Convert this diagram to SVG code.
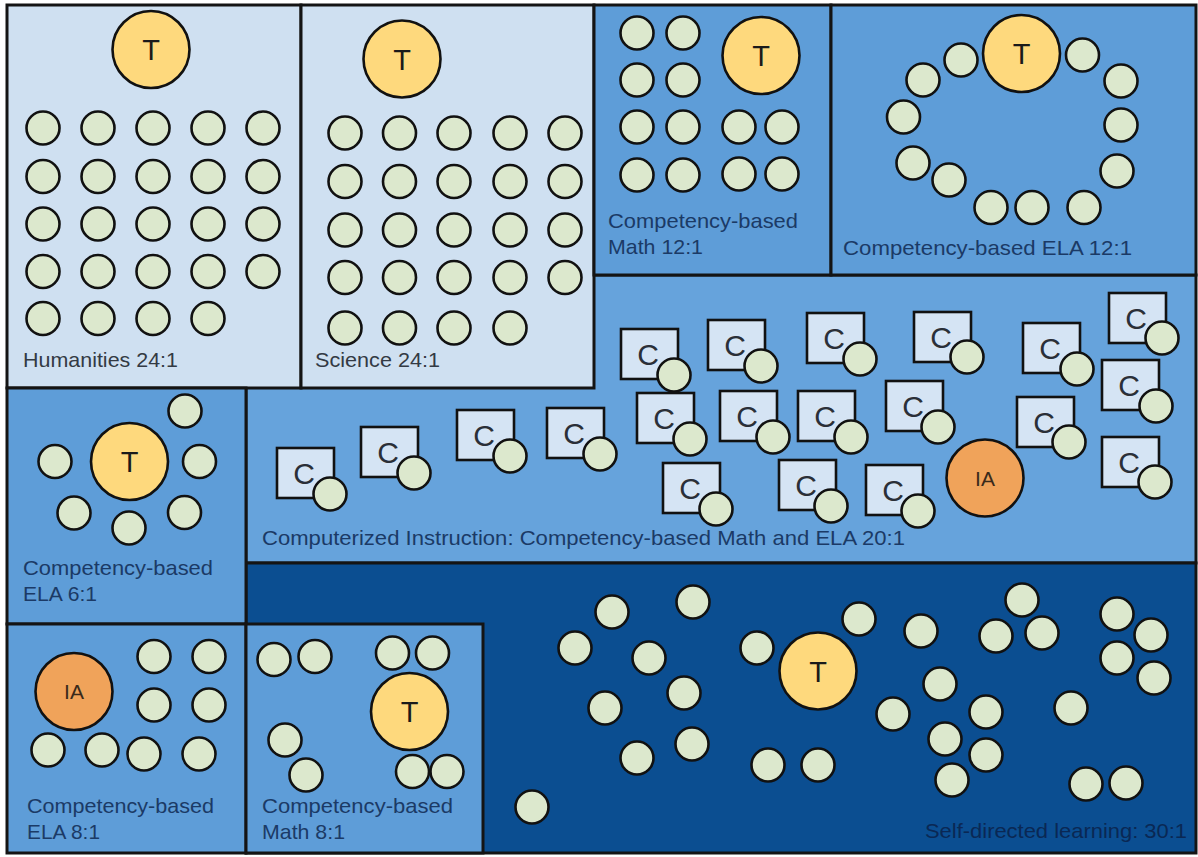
<svg xmlns="http://www.w3.org/2000/svg" width="1198" height="857" viewBox="0 0 1198 857">
<style>
.box{stroke:#141414;stroke-width:3}
.lt{fill:#cfe0f1}.md{fill:#5e9dd8}.ci{fill:#66a3dc}.dk{fill:#0b4e91}
.s{fill:#dce8cd;stroke:#111;stroke-width:2.6}
.t{fill:#fed97d;stroke:#111;stroke-width:2.6}
.ia{fill:#f0a35a;stroke:#111;stroke-width:2.6}
.cb{fill:#d5e4f4;stroke:#111;stroke-width:2.6}
.lbl{font-family:"Liberation Sans",Arial,sans-serif;font-size:21px}
.g1{fill:#333a44}.g2{fill:#1b3a66}.g3{fill:#0a2854}
.tt{font-family:"Liberation Sans",Arial,sans-serif;font-size:29px;fill:#1a1a1a;text-anchor:middle}
.it{font-family:"Liberation Sans",Arial,sans-serif;font-size:21px;fill:#3a2a1a;text-anchor:middle}
.ct{font-family:"Liberation Sans",Arial,sans-serif;font-size:30px;fill:#2a2f38;text-anchor:middle}
</style>
<rect width="1198" height="857" fill="#ffffff"/>

<g id="computerized">
<rect class="box ci" x="246" y="275" width="950" height="288"/>
<g id="c1"><rect class="cb" x="277" y="448" width="57" height="50"/><text class="ct" x="304" y="484">C</text><circle class="s" cx="330" cy="494" r="16.5"/></g>
<g id="c2"><rect class="cb" x="361" y="427" width="57" height="50"/><text class="ct" x="388" y="463">C</text><circle class="s" cx="414" cy="473" r="16.5"/></g>
<g id="c3"><rect class="cb" x="457" y="410" width="57" height="50"/><text class="ct" x="484" y="446">C</text><circle class="s" cx="510" cy="456" r="16.5"/></g>
<g id="c4"><rect class="cb" x="547" y="408" width="57" height="50"/><text class="ct" x="574" y="444">C</text><circle class="s" cx="600" cy="454" r="16.5"/></g>
<g id="c5"><rect class="cb" x="621" y="329" width="57" height="50"/><text class="ct" x="648" y="365">C</text><circle class="s" cx="674" cy="375" r="16.5"/></g>
<g id="c6"><rect class="cb" x="708" y="320" width="57" height="50"/><text class="ct" x="735" y="356">C</text><circle class="s" cx="761" cy="366" r="16.5"/></g>
<g id="c7"><rect class="cb" x="807" y="313" width="57" height="50"/><text class="ct" x="834" y="349">C</text><circle class="s" cx="860" cy="359" r="16.5"/></g>
<g id="c8"><rect class="cb" x="637" y="393" width="57" height="50"/><text class="ct" x="664" y="429">C</text><circle class="s" cx="690" cy="439" r="16.5"/></g>
<g id="c9"><rect class="cb" x="720" y="391" width="57" height="50"/><text class="ct" x="747" y="427">C</text><circle class="s" cx="773" cy="437" r="16.5"/></g>
<g id="c10"><rect class="cb" x="798" y="391" width="57" height="50"/><text class="ct" x="825" y="427">C</text><circle class="s" cx="851" cy="437" r="16.5"/></g>
<g id="c11"><rect class="cb" x="663" y="463" width="57" height="50"/><text class="ct" x="690" y="499">C</text><circle class="s" cx="716" cy="509" r="16.5"/></g>
<g id="c12"><rect class="cb" x="779" y="460" width="57" height="50"/><text class="ct" x="806" y="496">C</text><circle class="s" cx="831" cy="506" r="16.5"/></g>
<g id="c13"><rect class="cb" x="866" y="465" width="57" height="50"/><text class="ct" x="893" y="501">C</text><circle class="s" cx="918" cy="511" r="16.5"/></g>
<g id="c14"><rect class="cb" x="914" y="312" width="57" height="50"/><text class="ct" x="941" y="348">C</text><circle class="s" cx="967" cy="357" r="16.5"/></g>
<g id="c15"><rect class="cb" x="886" y="381" width="57" height="50"/><text class="ct" x="913" y="417">C</text><circle class="s" cx="938" cy="427" r="16.5"/></g>
<g id="c16"><rect class="cb" x="1023" y="323" width="57" height="50"/><text class="ct" x="1050" y="359">C</text><circle class="s" cx="1077" cy="369" r="16.5"/></g>
<g id="c17"><rect class="cb" x="1017" y="397" width="57" height="50"/><text class="ct" x="1044" y="433">C</text><circle class="s" cx="1069" cy="442" r="16.5"/></g>
<g id="c18"><rect class="cb" x="1109" y="293" width="57" height="50"/><text class="ct" x="1136" y="329">C</text><circle class="s" cx="1162" cy="338" r="16.5"/></g>
<g id="c19"><rect class="cb" x="1102" y="360" width="57" height="50"/><text class="ct" x="1129" y="396">C</text><circle class="s" cx="1156" cy="406" r="16.5"/></g>
<g id="c20"><rect class="cb" x="1102" y="437" width="57" height="50"/><text class="ct" x="1129" y="473">C</text><circle class="s" cx="1155" cy="482" r="16.5"/></g>
<circle class="ia" cx="985" cy="478" r="38.5"/><text class="it" x="985" y="486">IA</text>
<text class="lbl g2" x="262" y="545" textLength="643" lengthAdjust="spacingAndGlyphs">Computerized Instruction: Competency-based Math and ELA 20:1</text>
</g>

<g id="self-directed">
<rect class="box dk" x="246" y="563" width="950" height="290"/>
<circle class="t" cx="818" cy="671" r="38.5"/><text class="tt" x="818" y="681.5">T</text>
<g>
<circle class="s" cx="612" cy="612" r="16.5"/><circle class="s" cx="693" cy="602" r="16.5"/><circle class="s" cx="575" cy="648" r="16.5"/><circle class="s" cx="649" cy="658" r="16.5"/><circle class="s" cx="757" cy="648" r="16.5"/><circle class="s" cx="684" cy="693" r="16.5"/><circle class="s" cx="605" cy="708" r="16.5"/><circle class="s" cx="692" cy="744" r="16.5"/><circle class="s" cx="637" cy="758" r="16.5"/><circle class="s" cx="768" cy="765" r="16.5"/><circle class="s" cx="818" cy="765" r="16.5"/><circle class="s" cx="532" cy="807" r="16.5"/>
<circle class="s" cx="859" cy="619" r="16.5"/><circle class="s" cx="921" cy="631" r="16.5"/><circle class="s" cx="1022" cy="600" r="16.5"/><circle class="s" cx="996" cy="636" r="16.5"/><circle class="s" cx="1042" cy="633" r="16.5"/><circle class="s" cx="1117" cy="614" r="16.5"/><circle class="s" cx="1151" cy="635" r="16.5"/><circle class="s" cx="1117" cy="658" r="16.5"/><circle class="s" cx="1154" cy="678" r="16.5"/><circle class="s" cx="940" cy="684" r="16.5"/><circle class="s" cx="893" cy="714" r="16.5"/><circle class="s" cx="986" cy="712" r="16.5"/><circle class="s" cx="1071" cy="708" r="16.5"/><circle class="s" cx="945" cy="739" r="16.5"/><circle class="s" cx="986" cy="755" r="16.5"/><circle class="s" cx="952" cy="780" r="16.5"/><circle class="s" cx="1086" cy="784" r="16.5"/><circle class="s" cx="1126" cy="783" r="16.5"/>
</g>
<text class="lbl g3" x="925" y="838" textLength="262" lengthAdjust="spacingAndGlyphs">Self-directed learning: 30:1</text>
</g>

<g id="humanities">
<rect class="box lt" x="7" y="5" width="294" height="383"/>
<circle class="t" cx="151" cy="49.5" r="38.5"/><text class="tt" x="151" y="60">T</text>
<g>
<circle class="s" cx="43" cy="128" r="16.5"/><circle class="s" cx="98" cy="128" r="16.5"/><circle class="s" cx="153" cy="128" r="16.5"/><circle class="s" cx="208" cy="128" r="16.5"/><circle class="s" cx="263" cy="128" r="16.5"/>
<circle class="s" cx="43" cy="176.5" r="16.5"/><circle class="s" cx="98" cy="176.5" r="16.5"/><circle class="s" cx="153" cy="176.5" r="16.5"/><circle class="s" cx="208" cy="176.5" r="16.5"/><circle class="s" cx="263" cy="176.5" r="16.5"/>
<circle class="s" cx="43" cy="224" r="16.5"/><circle class="s" cx="98" cy="224" r="16.5"/><circle class="s" cx="153" cy="224" r="16.5"/><circle class="s" cx="208" cy="224" r="16.5"/><circle class="s" cx="263" cy="224" r="16.5"/>
<circle class="s" cx="43" cy="271.5" r="16.5"/><circle class="s" cx="98" cy="271.5" r="16.5"/><circle class="s" cx="153" cy="271.5" r="16.5"/><circle class="s" cx="208" cy="271.5" r="16.5"/><circle class="s" cx="263" cy="271.5" r="16.5"/>
<circle class="s" cx="43" cy="318.5" r="16.5"/><circle class="s" cx="98" cy="318.5" r="16.5"/><circle class="s" cx="153" cy="318.5" r="16.5"/><circle class="s" cx="208" cy="318.5" r="16.5"/>
</g>
<text class="lbl g1" x="23" y="367" textLength="155" lengthAdjust="spacingAndGlyphs">Humanities 24:1</text>
</g>

<g id="science">
<rect class="box lt" x="301" y="5" width="293" height="383"/>
<circle class="t" cx="402" cy="59" r="38.5"/><text class="tt" x="402" y="69.5">T</text>
<g>
<circle class="s" cx="345" cy="133" r="16.5"/><circle class="s" cx="399.5" cy="133" r="16.5"/><circle class="s" cx="454" cy="133" r="16.5"/><circle class="s" cx="510" cy="133" r="16.5"/><circle class="s" cx="565" cy="133" r="16.5"/>
<circle class="s" cx="345" cy="181.5" r="16.5"/><circle class="s" cx="399.5" cy="181.5" r="16.5"/><circle class="s" cx="454" cy="181.5" r="16.5"/><circle class="s" cx="510" cy="181.5" r="16.5"/><circle class="s" cx="565" cy="181.5" r="16.5"/>
<circle class="s" cx="345" cy="230" r="16.5"/><circle class="s" cx="399.5" cy="230" r="16.5"/><circle class="s" cx="454" cy="230" r="16.5"/><circle class="s" cx="510" cy="230" r="16.5"/><circle class="s" cx="565" cy="230" r="16.5"/>
<circle class="s" cx="345" cy="277.5" r="16.5"/><circle class="s" cx="399.5" cy="277.5" r="16.5"/><circle class="s" cx="454" cy="277.5" r="16.5"/><circle class="s" cx="510" cy="277.5" r="16.5"/><circle class="s" cx="565" cy="277.5" r="16.5"/>
<circle class="s" cx="345" cy="328" r="16.5"/><circle class="s" cx="399.5" cy="328" r="16.5"/><circle class="s" cx="454" cy="328" r="16.5"/><circle class="s" cx="510" cy="328" r="16.5"/>
</g>
<text class="lbl g1" x="315" y="367" textLength="125" lengthAdjust="spacingAndGlyphs">Science 24:1</text>
</g>

<g id="math-12">
<rect class="box md" x="594" y="5" width="237" height="270"/>
<circle class="t" cx="761" cy="55.5" r="38.5"/><text class="tt" x="761" y="66">T</text>
<g>
<circle class="s" cx="637" cy="33" r="16.5"/><circle class="s" cx="683" cy="33" r="16.5"/>
<circle class="s" cx="637" cy="80" r="16.5"/><circle class="s" cx="683" cy="80" r="16.5"/>
<circle class="s" cx="637" cy="127" r="16.5"/><circle class="s" cx="683" cy="127" r="16.5"/><circle class="s" cx="739" cy="127" r="16.5"/><circle class="s" cx="782" cy="127" r="16.5"/>
<circle class="s" cx="637" cy="175" r="16.5"/><circle class="s" cx="683" cy="175" r="16.5"/><circle class="s" cx="739" cy="174" r="16.5"/><circle class="s" cx="782" cy="174" r="16.5"/>
</g>
<text class="lbl g2" x="608" y="228" textLength="190" lengthAdjust="spacingAndGlyphs">Competency-based</text>
<text class="lbl g2" x="608" y="254" textLength="95" lengthAdjust="spacingAndGlyphs">Math 12:1</text>
</g>

<g id="ela-12">
<rect class="box md" x="831" y="5" width="365" height="270"/>
<circle class="t" cx="1021.5" cy="53.5" r="38.5"/><text class="tt" x="1021.5" y="64">T</text>
<g>
<circle class="s" cx="961" cy="60" r="16.5"/><circle class="s" cx="923" cy="80" r="16.5"/><circle class="s" cx="903.5" cy="117" r="16.5"/><circle class="s" cx="913" cy="163" r="16.5"/><circle class="s" cx="949" cy="180" r="16.5"/><circle class="s" cx="991" cy="207.5" r="16.5"/><circle class="s" cx="1032" cy="207.5" r="16.5"/><circle class="s" cx="1084" cy="207.5" r="16.5"/><circle class="s" cx="1117" cy="171" r="16.5"/><circle class="s" cx="1121" cy="125" r="16.5"/><circle class="s" cx="1121" cy="81" r="16.5"/><circle class="s" cx="1082.5" cy="55" r="16.5"/>
</g>
<text class="lbl g2" x="843" y="255" textLength="289" lengthAdjust="spacingAndGlyphs">Competency-based ELA 12:1</text>
</g>

<g id="ela-6">
<rect class="box md" x="7" y="388" width="239" height="236"/>
<circle class="t" cx="129.5" cy="461.5" r="38.5"/><text class="tt" x="129.5" y="472">T</text>
<g>
<circle class="s" cx="185" cy="411" r="16.5"/><circle class="s" cx="55" cy="461.5" r="16.5"/><circle class="s" cx="199.5" cy="461.5" r="16.5"/><circle class="s" cx="74" cy="513" r="16.5"/><circle class="s" cx="129" cy="528" r="16.5"/><circle class="s" cx="184.5" cy="512.5" r="16.5"/>
</g>
<text class="lbl g2" x="23" y="575" textLength="190" lengthAdjust="spacingAndGlyphs">Competency-based</text>
<text class="lbl g2" x="23" y="601" textLength="74" lengthAdjust="spacingAndGlyphs">ELA 6:1</text>
</g>

<g id="ela-8">
<rect class="box md" x="7" y="624" width="239" height="229"/>
<circle class="ia" cx="74" cy="691.5" r="38.5"/><text class="it" x="74" y="699">IA</text>
<g>
<circle class="s" cx="154" cy="656.5" r="16.5"/><circle class="s" cx="209" cy="656.5" r="16.5"/><circle class="s" cx="154" cy="705" r="16.5"/><circle class="s" cx="209" cy="705" r="16.5"/>
<circle class="s" cx="48" cy="750" r="16.5"/><circle class="s" cx="102" cy="750" r="16.5"/><circle class="s" cx="144" cy="754" r="16.5"/><circle class="s" cx="199" cy="754" r="16.5"/>
</g>
<text class="lbl g2" x="27" y="813" textLength="187" lengthAdjust="spacingAndGlyphs">Competency-based</text>
<text class="lbl g2" x="27" y="839" textLength="73" lengthAdjust="spacingAndGlyphs">ELA 8:1</text>
</g>

<g id="math-8">
<rect class="box md" x="246" y="624" width="237" height="229"/>
<circle class="t" cx="409.5" cy="711.5" r="38.5"/><text class="tt" x="409.5" y="722">T</text>
<g>
<circle class="s" cx="274" cy="659.5" r="16.5"/><circle class="s" cx="315" cy="656.5" r="16.5"/><circle class="s" cx="392.5" cy="653" r="16.5"/><circle class="s" cx="432.5" cy="653" r="16.5"/>
<circle class="s" cx="285" cy="740" r="16.5"/><circle class="s" cx="306" cy="775" r="16.5"/><circle class="s" cx="412.5" cy="771.5" r="16.5"/><circle class="s" cx="447" cy="771.5" r="16.5"/>
</g>
<text class="lbl g2" x="262" y="813" textLength="191" lengthAdjust="spacingAndGlyphs">Competency-based</text>
<text class="lbl g2" x="262" y="839" textLength="83" lengthAdjust="spacingAndGlyphs">Math 8:1</text>
</g>

<g id="connectors"/>
</svg>
